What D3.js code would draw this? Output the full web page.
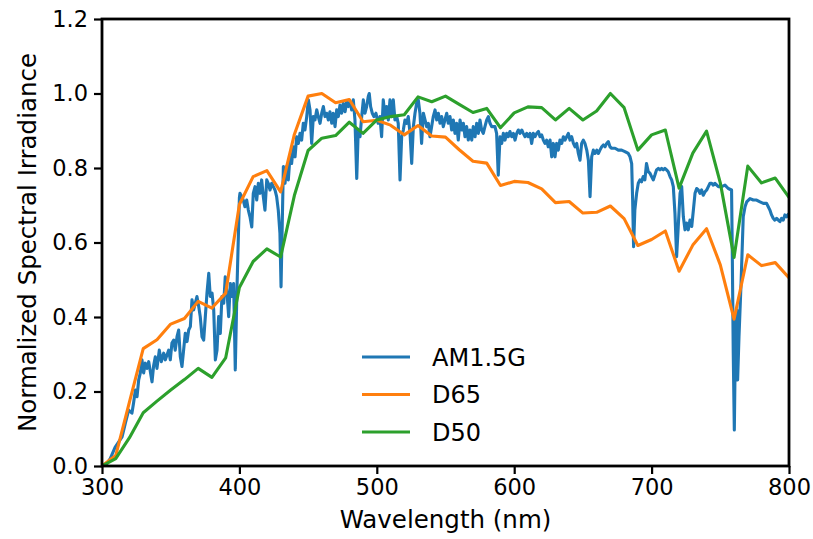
<!DOCTYPE html>
<html>
<head>
<meta charset="utf-8">
<script src="https://cdn.jsdelivr.net/npm/d3@7"></script>
<style>
  html, body { margin: 0; padding: 0; background: #ffffff; }
  svg { display: block; font-family: "DejaVu Sans", sans-serif; }
</style>
</head>
<body>
<svg id="chart" width="813" height="539"></svg>
<script>
// ---------------- data ----------------
const xTicks = [300, 400, 500, 600, 700, 800];
const yTicks = [0.0, 0.2, 0.4, 0.6, 0.8, 1.0, 1.2];
const seriesNames = ["AM1.5G", "D65", "D50"];
const seriesColors = ["#1f77b4", "#ff7f0e", "#2ca02c"];

// CIE illuminants (10 nm steps, normalized)
const illumWl = [300,310,320,330,340,350,360,370,380,390,400,410,420,430,440,450,460,470,480,490,500,
  510,520,530,540,550,560,570,580,590,600,610,620,630,640,650,660,670,680,690,700,
  710,720,730,740,750,760,770,780,790,800];
const d65 = [0.000,0.028,0.172,0.315,0.339,0.381,0.396,0.442,0.424,0.464,0.702,0.777,0.793,0.736,0.890,0.993,1.000,0.975,0.984,0.924,0.928,
  0.915,0.889,0.914,0.886,0.883,0.849,0.818,0.813,0.753,0.764,0.761,0.744,0.707,0.710,0.679,0.681,0.698,0.664,0.592,0.608,
  0.631,0.523,0.593,0.637,0.540,0.394,0.567,0.538,0.546,0.505];
const d50 = [0.000,0.020,0.076,0.143,0.174,0.204,0.232,0.262,0.238,0.290,0.479,0.549,0.583,0.561,0.726,0.847,0.880,0.887,0.923,0.893,0.929,
  0.938,0.943,0.991,0.978,0.993,0.971,0.949,0.960,0.908,0.948,0.964,0.962,0.929,0.960,0.929,0.953,1.000,0.962,0.848,0.889,
  0.902,0.746,0.840,0.899,0.760,0.560,0.805,0.760,0.773,0.721];

// AM1.5G solar spectrum (normalized)
const amWl = [300,303,306,309.5,314.6,317,319.4,321.8,323,324.3,325.5,326.7,327.9,329.1,330.3,331.5,332.7,334,335.2,336.4,337.6,338.8,340,
  341.7,343.2,344.9,346.1,347.3,348.5,349.7,350.9,352.2,353.3,354.6,355.8,357,358.2,359.4,360.6,361.9,363.1,364.3,365.5,366.7,367.9,369.1,
  370.4,371.5,372.8,374,375.2,376.4,377.7,378.8,380.1,381.3,382.5,383.7,384.9,386.1,387.3,388.6,389.7,391,392.2,393.4,394.6,395.8,397,398.2,
  400,400.4,401.7,402.8,404,405.3,406.5,407.7,409,410.1,411.4,412.6,413.8,415,416.2,417.4,418.6,419.9,421,422.3,423.5,424.7,425.9,427.1,
  428.3,429.5,430.3,431.2,432,433.2,434.4,435.6,436.8,438,439.2,440.5,441.7,442.9,444.1,445.3,446.5,447.7,449,450.2,451.4,452.6,453.8,455,
  456.3,457.4,458.7,459.9,461.1,462.3,463.5,464.7,465.9,467.2,468.3,469.6,470.8,472,473.2,474.4,475.6,476.9,478.1,479.3,480.5,481.7,482.9,
  484.1,485.4,486.5,487.8,489,490.2,491.4,492.6,493.8,494.5,495.5,496.7,497.9,499.4,501,502.3,503.5,504.7,506,507.2,508.4,509.6,510.8,512,
  513.2,514.5,515.6,516.9,518.1,519.3,520.5,521.7,522.9,524.2,525.4,526.6,527.8,529,530.2,531.4,532.6,533.9,535.1,536.3,537.5,538.7,539.9,
  541.1,542.4,543.6,544.8,546,547.2,548.4,549.6,550.9,552,553.3,554.5,555.7,556.9,558.1,559.3,560.6,561.8,563,564.2,565.4,566.6,567.8,
  569.1,570.2,571.5,572.7,573.9,575.1,576.3,577.5,578.7,580,581.2,582.4,583.6,586,587.2,588.4,589.7,590.9,592.1,593.3,594.5,595.7,596.9,
  598.2,599.4,600.6,601.8,603,604.2,605.5,606.6,607.9,609.1,610.3,611.5,612.7,613.9,615.1,616.4,617.6,618.8,620,621.2,622.4,623.6,624.8,
  626.1,627.3,628.5,629.7,630.9,632.1,633.3,634.6,635.8,637,638.2,639.4,640.6,641.8,643.1,644.3,645.5,646.7,647.9,649.1,650.3,651.5,652.8,
  654,655.2,656.4,657.6,658.8,660.1,661.3,662.4,663.7,664.9,666.1,667.3,668.5,669.7,670.9,673.4,675.8,678.2,680.6,683,684.3,685.5,686.2,
  686.9,687.8,689.1,690.3,691.5,692.7,693.9,695.1,696.3,697.6,698.8,700,701.2,702.4,703.6,704.9,706.1,707.3,708.5,709.7,710.9,712.1,713.4,
  714.6,715.8,717,718.2,719.4,720.7,721.9,723.1,724.3,725.5,726.7,727.9,729.2,730.4,731.6,732.8,734,735.2,736.4,737.6,738.9,740.1,741.3,
  742.5,743.7,744.9,746.1,748.6,751,753.4,755.8,758.2,758.7,759.4,760.2,761.2,762.1,762.6,763.6,765.1,766.7,768,769.2,771.6,774,776.4,
  778.9,781.3,783.7,784.9,786.1,787.3,788.5,789.7,791,792.2,793.4,794.6,795.8,797,798.2,799.1];
const amVal = [0,0.003,0.02,0.05,0.078,0.115,0.15,0.142,0.17,0.204,0.186,0.231,0.25,0.285,0.25,0.276,0.262,0.28,0.253,0.226,0.27,0.293,0.262,
  0.311,0.28,0.303,0.285,0.298,0.311,0.285,0.33,0.338,0.311,0.347,0.365,0.293,0.267,0.311,0.356,0.334,0.365,0.374,0.446,0.419,0.437,0.455,
  0.428,0.401,0.347,0.338,0.401,0.464,0.517,0.455,0.464,0.419,0.285,0.311,0.401,0.356,0.455,0.437,0.508,0.464,0.401,0.49,0.455,0.49,0.258,0.472,
  0.72,0.732,0.723,0.714,0.696,0.714,0.687,0.669,0.642,0.732,0.75,0.714,0.759,0.732,0.768,0.723,0.687,0.768,0.759,0.741,0.759,0.75,0.741,0.723,
  0.687,0.625,0.481,0.652,0.804,0.759,0.804,0.768,0.83,0.812,0.857,0.83,0.884,0.866,0.893,0.875,0.92,0.902,0.938,0.983,0.956,0.866,0.938,0.929,
  0.956,0.938,0.92,0.947,0.965,0.938,0.947,0.929,0.951,0.92,0.947,0.911,0.956,0.938,0.969,0.947,0.974,0.951,0.978,0.965,0.978,0.956,0.983,
  0.929,0.772,0.902,0.884,0.938,0.983,0.947,0.965,0.992,1.0,0.965,0.947,0.938,0.947,0.92,0.938,0.884,0.983,0.938,0.965,0.929,0.983,0.938,0.983,
  0.929,0.938,0.92,0.768,0.884,0.902,0.929,0.92,0.938,0.893,0.812,0.911,0.947,0.974,0.983,0.947,0.866,0.947,0.929,0.911,0.92,0.884,0.911,
  0.938,0.956,0.929,0.947,0.92,0.938,0.911,0.929,0.947,0.92,0.938,0.902,0.929,0.893,0.92,0.875,0.929,0.902,0.92,0.884,0.911,0.875,0.902,
  0.875,0.911,0.884,0.92,0.893,0.929,0.902,0.893,0.911,0.929,0.938,0.92,0.911,0.911,0.893,0.781,0.884,0.866,0.893,0.875,0.893,0.884,0.898,
  0.884,0.893,0.875,0.893,0.902,0.893,0.902,0.893,0.884,0.893,0.884,0.893,0.866,0.893,0.884,0.893,0.898,0.884,0.889,0.875,0.866,0.875,0.857,
  0.875,0.83,0.866,0.83,0.866,0.848,0.875,0.866,0.884,0.875,0.884,0.893,0.875,0.884,0.866,0.857,0.866,0.839,0.821,0.866,0.875,0.866,0.848,
  0.821,0.723,0.83,0.848,0.839,0.848,0.839,0.848,0.857,0.862,0.857,0.866,0.871,0.857,0.853,0.853,0.848,0.848,0.844,0.839,0.83,0.812,0.714,
  0.589,0.687,0.732,0.759,0.768,0.763,0.777,0.768,0.812,0.79,0.786,0.777,0.768,0.781,0.795,0.799,0.795,0.799,0.795,0.799,0.795,0.79,0.777,
  0.768,0.75,0.678,0.562,0.643,0.732,0.75,0.669,0.634,0.652,0.634,0.66,0.643,0.687,0.732,0.745,0.741,0.732,0.741,0.727,0.736,0.741,0.75,
  0.759,0.759,0.754,0.759,0.75,0.75,0.754,0.745,0.741,0.58,0.311,0.097,0.401,0.419,0.231,0.347,0.49,0.669,0.696,0.709,0.718,0.714,0.714,
  0.709,0.705,0.705,0.696,0.687,0.674,0.665,0.66,0.665,0.66,0.656,0.665,0.66,0.674,0.669,0.674];

// ---------------- layout ----------------
const W = 813, H = 539;
const m = { left: 102, right: 789, top: 19, bottom: 466 };
const svg = d3.select("#chart");

const x = d3.scaleLinear().domain([300, 800]).range([m.left, m.right]);
const y = d3.scaleLinear().domain([0, 1.2]).range([m.bottom, m.top]);

const series = [
  { name: seriesNames[0], color: seriesColors[0], pts: amWl.map((w, i) => [w, amVal[i]]) },
  { name: seriesNames[1], color: seriesColors[1], pts: illumWl.map((w, i) => [w, d65[i]]) },
  { name: seriesNames[2], color: seriesColors[2], pts: illumWl.map((w, i) => [w, d50[i]]) }
];

svg.append("defs").append("clipPath").attr("id", "clip")
  .append("rect").attr("x", m.left).attr("y", m.top)
  .attr("width", m.right - m.left).attr("height", m.bottom - m.top);

const lw = 3.1;
const line = d3.line().x(d => x(d[0])).y(d => y(d[1]));
const g = svg.append("g").attr("clip-path", "url(#clip)");
series.forEach(s => {
  g.append("path").datum(s.pts)
    .attr("d", line)
    .attr("fill", "none")
    .attr("stroke", s.color)
    .attr("stroke-width", lw)
    .attr("stroke-linejoin", "round")
    .attr("stroke-linecap", "square");
});

// axes
const fs = 22.5;
const xAxis = svg.append("g").attr("transform", `translate(0,${m.bottom})`)
  .call(d3.axisBottom(x).tickValues(xTicks).tickSize(8).tickPadding(5).tickFormat(d3.format("d")));
const yAxis = svg.append("g").attr("transform", `translate(${m.left},0)`)
  .call(d3.axisLeft(y).tickValues(yTicks).tickSize(8).tickPadding(6).tickFormat(d3.format(".1f")));
[xAxis, yAxis].forEach(a => {
  a.select(".domain").remove();
  a.selectAll(".tick line").attr("stroke", "#000").attr("stroke-width", 2.2);
  a.selectAll(".tick text").attr("fill", "#000").style("font-size", fs + "px")
    .style("font-family", "'DejaVu Sans', sans-serif");
});

// spines
svg.append("rect")
  .attr("x", m.left).attr("y", m.top)
  .attr("width", m.right - m.left).attr("height", m.bottom - m.top)
  .attr("fill", "none").attr("stroke", "#000").attr("stroke-width", 2.8);

// axis labels
svg.append("text")
  .attr("x", (m.left + m.right) / 2).attr("y", 528)
  .attr("text-anchor", "middle")
  .style("font-size", "24.5px")
  .text("Wavelength (nm)");
svg.append("text")
  .attr("transform", `translate(36,${(m.top + m.bottom) / 2}) rotate(-90)`)
  .attr("text-anchor", "middle")
  .style("font-size", "24.5px")
  .text("Normalized Spectral Irradiance");

// legend
const lg = svg.append("g").attr("transform", "translate(362,357)");
series.forEach((s, i) => {
  const row = lg.append("g").attr("transform", `translate(0,${i * 37.5})`);
  row.append("line").attr("x1", 0).attr("x2", 48).attr("y1", 0).attr("y2", 0)
    .attr("stroke", s.color).attr("stroke-width", lw);
  row.append("text").attr("x", 70).attr("y", 0).attr("dy", "0.36em")
    .style("font-size", "24px").text(s.name);
});
</script>
</body>
</html>
